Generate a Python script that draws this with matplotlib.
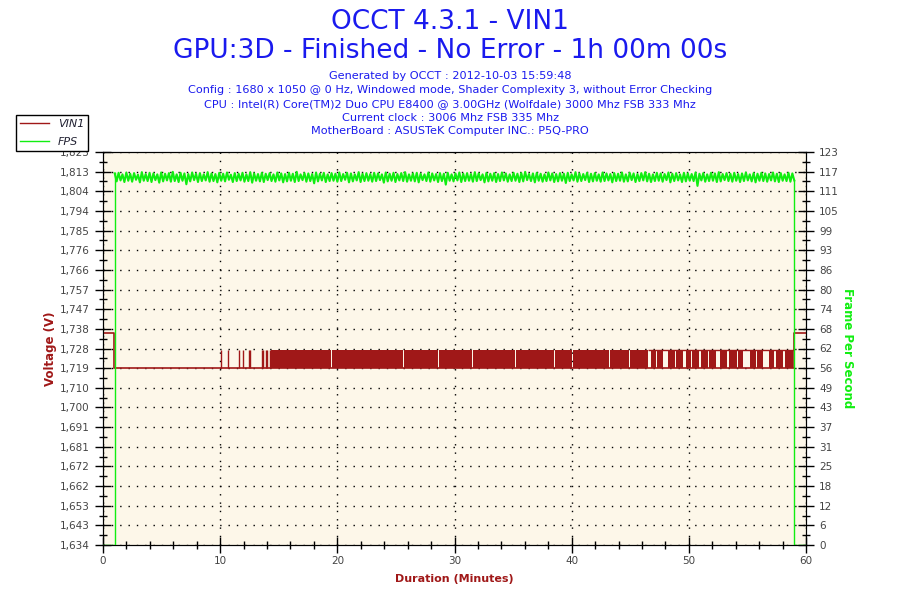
import numpy as np
import matplotlib
matplotlib.use('Agg')
from matplotlib import pyplot as plt
from matplotlib.ticker import MultipleLocator, FixedLocator
from matplotlib.lines import Line2D

# ---- data ----
vin_time = [0.0, 0.97, 0.97, 58.95, 58.95, 60.0]
vin_value = [1.736, 1.736, 1.719, 1.719, 1.736, 1.736]
vin_low = 1.719
vin_high = 1.728
# isolated readings at 1.728 (minutes)
vin_spikes = [10.07, 10.70, 11.63, 11.97, 12.49, 12.55, 13.55, 13.63, 13.89, 13.97, 14.25]
# stretches where the reading toggles 1.719 / 1.728 every sample
vin_dense = [(14.3, 16.2), (16.25, 19.5), (19.55, 22.0), (22.05, 25.6), (25.65, 28.6),
             (28.65, 31.5), (31.55, 35.2), (35.25, 38.5), (38.6, 40.0), (40.1, 43.2),
             (43.3, 44.9), (45.0, 46.5), (46.75, 47.2), (47.3, 47.8), (48.25, 48.8),
             (48.9, 49.5), (49.8, 50.2), (50.3, 50.9), (51.0, 51.6), (51.7, 52.35),
             (52.65, 53.3), (53.45, 54.1), (54.2, 54.6), (55.2, 55.7), (55.8, 56.35),
             (56.8, 57.3), (57.45, 58.05), (58.2, 58.9)]
vin_top_stretch = (46.5, 58.95)

fps_start, fps_end = 1.0, 59.0
fps_values = [
    116.3, 113.8, 116.5, 114.1, 116.0, 113.6, 116.6, 114.0, 116.2, 113.7, 116.4, 114.3, 115.9, 113.5, 116.7, 114.0,
    116.1, 113.9, 116.5, 113.6, 116.3, 114.2, 116.0, 113.4, 116.6, 113.8, 116.2, 114.1, 116.4, 113.7, 116.8, 113.9,
    116.0, 113.6, 116.5, 114.0, 116.3, 112.9, 116.1, 113.8, 116.6, 114.2, 116.2, 113.6, 116.4, 113.9, 116.0, 114.1,
    116.7, 113.7, 116.3, 113.9, 116.1, 113.5, 116.5, 114.0, 116.2, 113.8, 116.6, 114.3, 115.9, 113.6, 116.4, 113.9,
    116.2, 114.1, 116.5, 113.7, 116.0, 113.9, 116.7, 113.4, 116.3, 114.0, 116.1, 113.8, 116.5, 113.6, 116.2, 114.2,
    116.4, 113.9, 116.0, 113.7, 116.6, 114.1, 116.3, 113.5, 116.1, 113.8, 116.5, 114.0, 116.2, 113.6, 116.8, 113.9,
    116.0, 114.2, 116.4, 113.7, 116.3, 113.9, 116.1, 113.2, 116.6, 113.8, 116.2, 114.1, 116.5, 113.6, 116.0, 113.9,
    116.4, 114.0, 116.2, 113.7, 116.6, 113.9, 116.1, 114.3, 116.5, 113.5, 116.3, 113.8, 116.0, 114.1, 116.7, 113.6,
    116.2, 113.9, 116.4, 114.0, 116.1, 113.7, 116.5, 113.9, 116.3, 114.2, 116.0, 113.4, 116.6, 113.8, 116.2, 114.0,
    116.5, 113.6, 116.1, 114.1, 116.4, 113.9, 116.7, 113.7, 116.0, 114.0, 116.3, 113.8, 116.5, 113.5, 116.2, 114.2,
    116.0, 113.9, 116.6, 113.7, 116.3, 114.1, 116.1, 113.6, 116.4, 113.9, 116.2, 112.8, 116.5, 114.0, 116.0, 113.8,
    116.3, 114.1, 116.6, 113.6, 116.2, 113.9, 116.4, 114.0, 116.1, 113.7, 116.7, 113.9, 116.3, 114.2, 116.0, 113.5,
    116.5, 113.8, 116.2, 114.0, 116.4, 113.6, 116.1, 113.9, 116.6, 114.1, 116.3, 113.7, 116.0, 113.9, 116.5, 114.0,
    116.2, 113.6, 116.4, 113.8, 116.8, 114.2, 116.1, 113.9, 116.3, 113.5, 116.5, 114.0, 116.2, 113.7, 116.0, 113.9,
    116.6, 114.1, 116.3, 113.6, 116.1, 113.8, 116.4, 114.0, 116.2, 113.3, 116.5, 113.9, 116.0, 114.1, 116.7, 113.7,
    116.3, 113.9, 116.1, 114.2, 116.5, 113.6, 116.2, 113.8, 116.4, 114.0, 116.0, 113.7, 116.6, 113.9, 116.3, 114.1,
    116.1, 113.5, 116.4, 113.9, 116.2, 114.0, 116.6, 113.7, 116.0, 113.8, 116.5, 114.2, 116.3, 113.6, 116.1, 113.9,
    116.4, 114.1, 116.7, 113.8, 116.2, 113.6, 116.0, 113.9, 116.5, 114.0, 116.3, 113.7, 116.1, 114.2, 116.6, 113.5,
    116.2, 113.9, 116.4, 114.1, 116.0, 113.6, 116.5, 113.8, 116.3, 114.0, 116.1, 113.9, 116.6, 112.4, 116.2, 114.1,
    116.4, 113.7, 116.0, 113.9, 116.5, 114.0, 116.3, 113.6, 116.7, 113.8, 116.1, 114.2, 116.4, 113.9, 116.2, 113.7,
    116.5, 114.0, 116.1, 113.6, 116.3, 113.9, 116.6, 114.1, 116.0, 113.8, 116.4, 113.5, 116.2, 114.0, 116.5, 113.9,
    116.3, 113.7, 116.1, 114.1, 116.6, 113.8, 116.2, 113.6, 116.4, 114.0, 116.0, 113.9, 116.5, 113.7, 116.3, 114.1,
]

volt_labels = ['1,634', '1,643', '1,653', '1,662', '1,672', '1,681', '1,691', '1,700', '1,710', '1,719',
               '1,728', '1,738', '1,747', '1,757', '1,766', '1,776', '1,785', '1,794', '1,804', '1,813', '1,823']
fps_labels = ['0', '6', '12', '18', '25', '31', '37', '43', '49', '56', '62', '68', '74', '80', '86',
              '93', '99', '105', '111', '117', '123']
volt_min, volt_max = 1.634, 1.823
fps_min, fps_max = 0, 123

title1 = 'OCCT 4.3.1 - VIN1'
title2 = 'GPU:3D - Finished - No Error - 1h 00m 00s'
info_lines = ['Generated by OCCT : 2012-10-03 15:59:48',
              'Config : 1680 x 1050 @ 0 Hz, Windowed mode, Shader Complexity 3, without Error Checking',
              'CPU : Intel(R) Core(TM)2 Duo CPU E8400 @ 3.00GHz (Wolfdale) 3000 Mhz FSB 333 Mhz',
              'Current clock : 3006 Mhz FSB 335 Mhz',
              'MotherBoard : ASUSTeK Computer INC.: P5Q-PRO']

RED = '#a01818'
GREEN = '#11ee11'
BLUE = '#1a1aee'
TICKC = '#444444'

fig = plt.figure(figsize=(9, 6), dpi=100)
ax = fig.add_axes([103/900, 1-545/600, 703/900, 393/600])
ax.set_facecolor('#fdf7e9')
ax2 = ax.twinx()

# voltage
ax.plot(vin_time, vin_value, color=RED, lw=1.2, zorder=3)
ax.vlines(vin_spikes, vin_low, vin_high, color=RED, lw=1.0, zorder=3)
for s, e in vin_dense:
    ax.fill_between([s, e], vin_low, vin_high, color=RED, lw=0, zorder=3)
ax.hlines(vin_high, vin_top_stretch[0], vin_top_stretch[1], color=RED, lw=1.0, zorder=3)

# fps: edges thin, noisy stretch a bit heavier so it reads as a band
fps_t = np.linspace(fps_start, fps_end, len(fps_values))
ax2.plot([0.0, fps_start, fps_start], [0, 0, fps_values[0]], color=GREEN, lw=1.0, zorder=4)
ax2.plot([fps_end, fps_end, 60.0], [fps_values[-1], 0, 0], color=GREEN, lw=1.0, zorder=4)
ax2.plot(fps_t, fps_values, color=GREEN, lw=1.5, zorder=4)

ax.set_xlim(0, 60)
ax.set_ylim(volt_min, volt_max)
ax2.set_ylim(fps_min, fps_max)

ax.xaxis.set_major_locator(MultipleLocator(10))
ax.xaxis.set_minor_locator(MultipleLocator(2))
vt = np.linspace(volt_min, volt_max, len(volt_labels))
ax.yaxis.set_major_locator(FixedLocator(vt))
ax.set_yticklabels(volt_labels)
ax.yaxis.set_minor_locator(FixedLocator((vt[:-1] + vt[1:]) / 2))
ft = np.linspace(fps_min, fps_max, len(fps_labels))
ax2.yaxis.set_major_locator(FixedLocator(ft))
ax2.set_yticklabels(fps_labels)
ax2.yaxis.set_minor_locator(FixedLocator((ft[:-1] + ft[1:]) / 2))

for a in (ax, ax2):
    a.tick_params(which='major', direction='inout', length=12, width=1, labelsize=7.5,
                  labelcolor=TICKC, color='black')
    a.tick_params(which='minor', direction='inout', length=6, width=1, color='black')
    for sp in a.spines.values():
        sp.set_color('black')
ax.tick_params(axis='x', pad=2)

ax.grid(True, which='major', color='black', linestyle=(0, (1, 5)), lw=1)

ax.set_ylabel('Voltage (V)', color=RED, fontsize=8.5, fontweight='bold', labelpad=2)
ax.set_xlabel('Duration (Minutes)', color=RED, fontsize=8, fontweight='bold', labelpad=6)
ax2.set_ylabel('Frame Per Second', color=GREEN, fontsize=8.5, fontweight='bold',
               rotation=-90, labelpad=11)

fig.text(0.5, 0.964, title1, ha='center', va='center', color=BLUE, fontsize=19)
fig.text(0.5, 0.915, title2, ha='center', va='center', color=BLUE, fontsize=19)
ys = [76, 90, 104, 118, 131]
for y, line in zip(ys, info_lines):
    fig.text(0.5, 1 - y/600, line, ha='center', va='center', color=BLUE, fontsize=8.1)

handles = [Line2D([], [], color=RED, lw=1), Line2D([], [], color=GREEN, lw=1)]
leg = fig.legend(handles, ['VIN1', 'FPS'], loc='upper left',
                 bbox_to_anchor=(16/900, 1-115/600), frameon=True, fancybox=False,
                 edgecolor='black', framealpha=1, borderpad=0.35, handlelength=2.6,
                 labelspacing=0.75, borderaxespad=0, prop={'size': 8, 'style': 'italic'})
leg.get_frame().set_linewidth(1)
for txt in leg.get_texts():
    txt.set_color('#222233')

fig.savefig('out.png', dpi=100)
